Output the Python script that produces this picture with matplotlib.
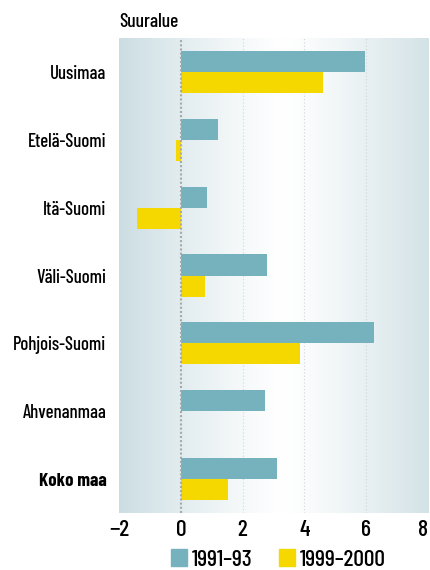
import numpy as np
import matplotlib
matplotlib.use("Agg")
import matplotlib.pyplot as plt
from matplotlib.patches import Patch

categories = ["Uusimaa", "Etelä-Suomi", "Itä-Suomi", "Väli-Suomi",
              "Pohjois-Suomi", "Ahvenanmaa", "Koko maa"]
s1991 = [5.95, 1.2, 0.85, 2.8, 6.25, 2.73, 3.12]
s1999 = [4.6, -0.16, -1.4, 0.8, 3.87, 0.02, 1.53]
series_labels = ["1991\u201393", "1999\u20132000"]
xticks = [-2, 0, 2, 4, 6, 8]
xticklabels = ["\u22122", "0", "2", "4", "6", "8"]

FONT = ["Barlow Condensed", "DejaVu Sans"]
plt.rcParams['font.family'] = FONT
plt.rcParams['font.weight'] = 500

blue = "#75b2bd"
yellow = "#f5d800"

fig = plt.figure(figsize=(4.31, 5.70), dpi=100)
ax = fig.add_axes([0.276, 0.1, 0.717, 0.8333])

# gradient background
xs = np.linspace(-2, 8, 400)
center = 3.3
d = np.abs(xs - center) / 5.3
d = np.clip(d, 0, 1)
c_edge = np.array([0.80, 0.87, 0.89])
c_mid = np.array([1.0, 1.0, 1.0])
w = d[:, None] ** 1.2
grad = c_mid[None, :] * (1 - w) + c_edge[None, :] * w
img = np.tile(grad[None, :, :], (2, 1, 1))
ax.imshow(img, extent=[-2, 8, 6.5, -0.5], aspect='auto', zorder=0)

y = np.arange(len(categories))
h = 0.31
ax.barh(y - h / 2, s1991, height=h, color=blue, zorder=3, label=series_labels[0])
ax.barh(y + h / 2, s1999, height=h, color=yellow, zorder=3, label=series_labels[1])

for xv in [2, 4, 6]:
    ax.axvline(xv, color="#d0d6d8", lw=0.8, ls=(0, (1, 2)), zorder=1)
ax.axvline(0, color="#a8a8a8", lw=1.5, ls=(0, (1, 1)), zorder=4)

ax.set_xlim(-2, 8)
ax.set_ylim(6.5, -0.5)
ax.set_xticks(xticks)
ax.set_xticklabels(xticklabels, fontsize=17)
ax.get_xticklabels()[-1].set_horizontalalignment("right")
ax.set_yticks(y)
ax.set_yticklabels(categories, fontsize=13.5)
ax.get_yticklabels()[-1].set_fontweight("bold")
ax.tick_params(axis='both', length=0)
ax.tick_params(axis='y', pad=9)
ax.tick_params(axis='x', pad=5)
for s in ax.spines.values():
    s.set_visible(False)

fig.text(0.276, 0.962, "Suuralue", fontsize=14, ha='left', va='center')

handles = [Patch(color=blue), Patch(color=yellow)]
fig.legend(handles, series_labels, loc='center', bbox_to_anchor=(0.646, 0.018),
           ncol=2, frameon=False, fontsize=17, handlelength=0.7, handleheight=0.7,
           handletextpad=0.2, columnspacing=1.1)

fig.savefig("out.png", dpi=100)
